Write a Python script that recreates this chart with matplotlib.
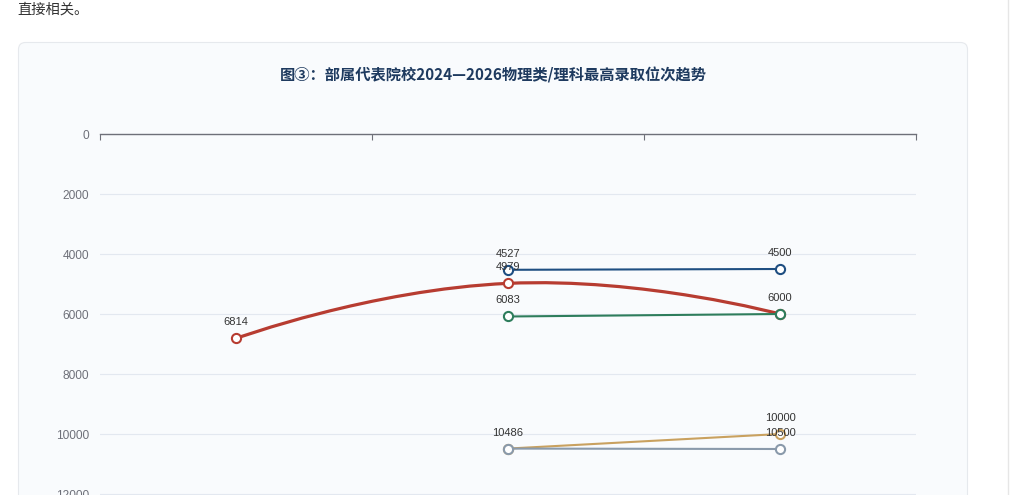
import matplotlib
matplotlib.use('Agg')
import matplotlib.pyplot as plt
from matplotlib.patches import FancyBboxPatch
from matplotlib.path import Path
from matplotlib.patches import PathPatch
import numpy as np

plt.rcParams['font.family'] = ['Noto Sans CJK SC', 'DejaVu Sans']

title = '图③：部属代表院校2024—2026物理类/理科最高录取位次趋势'
intro_text = '直接相关。'
years = ['2024', '2025', '2026']
y_ticks = [0, 2000, 4000, 6000, 8000, 10000, 12000, 14000]

# values per series (None = no data that year)
red_vals = [6814, 4979, 6000]
blue_vals = [None, 4527, 4500]
green_vals = [None, 6083, 6000]
gold_vals = [None, 10486, 10000]
grey_vals = [None, 10486, 10500]

# which labels are shown (others hidden by overlap in the original)
red_show = [True, True, False]
blue_show = [False, True, True]
green_show = [False, True, True]
gold_show = [False, False, True]
grey_show = [False, True, True]

W, H = 1010, 495
fig = plt.figure(figsize=(W / 100, H / 100), dpi=100)
fig.patch.set_facecolor('white')

# page background layer in pixel coords
bg = fig.add_axes([0, 0, 1, 1], zorder=0)
bg.set_xlim(0, W)
bg.set_ylim(H, 0)
bg.axis('off')
card = FancyBboxPatch((18.5, 42.5), 949, 520, boxstyle='round,pad=0,rounding_size=7',
                      fc='#f9fbfd', ec='#e6e9ed', lw=0.8)
bg.add_patch(card)
bg.plot([1008, 1008], [0, H], color='#e6e6e6', lw=1)
bg.text(17, 10, intro_text, fontsize=10.3, color='#333333', va='center', ha='left')
bg.text(493, 75, title, fontsize=11, fontweight='bold', color='#1e3a5f',
        va='center', ha='center')

# chart axes: value 0 at y=134px, 30 px per 1000
top_px = 134
bottom_px = top_px + y_ticks[-1] * 0.03
ax = fig.add_axes([100 / W, 1 - bottom_px / H, 816 / W, (bottom_px - top_px) / H], zorder=1)
ax.set_facecolor('none')
ax.set_xlim(-0.5, len(years) - 0.5)
ax.set_ylim(y_ticks[-1], 0)

for s in ['left', 'right', 'bottom']:
    ax.spines[s].set_visible(False)
ax.spines['top'].set_color('#6e7079')
ax.spines['top'].set_linewidth(1)

ax.xaxis.tick_top()
ax.set_xticks(np.arange(len(years) + 1) - 0.5)
ax.set_xticklabels([])
ax.tick_params(axis='x', direction='in', length=4, width=0.8, color='#6e7079')

ax.set_yticks(y_ticks)
ax.set_yticklabels([str(v) for v in y_ticks], family='Liberation Sans',
                   fontsize=8.6, color='#6e7079')
ax.tick_params(axis='y', length=0, pad=8)
ax.grid(axis='y', color='#e3e8f0', lw=0.8)
ax.set_axisbelow(True)

zo = [3]


def add_series(vals, show, color, lw, smooth=False):
    xs = [i for i, v in enumerate(vals) if v is not None]
    ys = [v for v in vals if v is not None]
    z = zo[0]
    zo[0] += 0.1
    if smooth:
        # echarts style bezier smoothing, done in pixel space
        pts = ax.transData.transform(np.column_stack([xs, ys]))
        verts = [pts[0]]
        codes = [Path.MOVETO]
        n = len(pts)
        cps = []
        for i in range(n):
            if i == 0 or i == n - 1:
                cps.append((pts[i], pts[i]))
                continue
            v = pts[i + 1] - pts[i - 1]
            d0 = np.hypot(*(pts[i] - pts[i - 1]))
            d1 = np.hypot(*(pts[i + 1] - pts[i]))
            r = d1 / (d0 + d1)
            cps.append((pts[i] - v * 0.5 * (1 - r), pts[i] + v * 0.5 * r))
        for i in range(1, n):
            verts += [cps[i - 1][1], cps[i][0], pts[i]]
            codes += [Path.CURVE4] * 3
        inv = ax.transData.inverted()
        path = Path(inv.transform(np.array(verts)), codes)
        ax.add_patch(PathPatch(path, fc='none', ec=color, lw=lw, zorder=z,
                               capstyle='round', joinstyle='round'))
    else:
        ax.plot(xs, ys, color=color, lw=lw, zorder=z, solid_capstyle='round')
    ax.plot(xs, ys, ls='none', marker='o', ms=6.6, mfc='white', mec=color,
            mew=1.5, zorder=z + 0.05, clip_on=False)
    for xi, v in zip(xs, ys):
        if show[xi]:
            ax.annotate(str(v), (xi, v), xytext=(0, 16), textcoords='offset pixels',
                        ha='center', va='center', fontsize=8, color='#333333',
                        family='Liberation Sans', zorder=6)


add_series(red_vals, red_show, '#b73c31', 2.3, smooth=True)
add_series(gold_vals, gold_show, '#c9a15f', 1.5)
add_series(grey_vals, grey_show, '#8a9aab', 1.5)
add_series(green_vals, green_show, '#2e7d5c', 1.5)
add_series(blue_vals, blue_show, '#1f4f82', 1.5)

fig.savefig('out.png', dpi=100)
